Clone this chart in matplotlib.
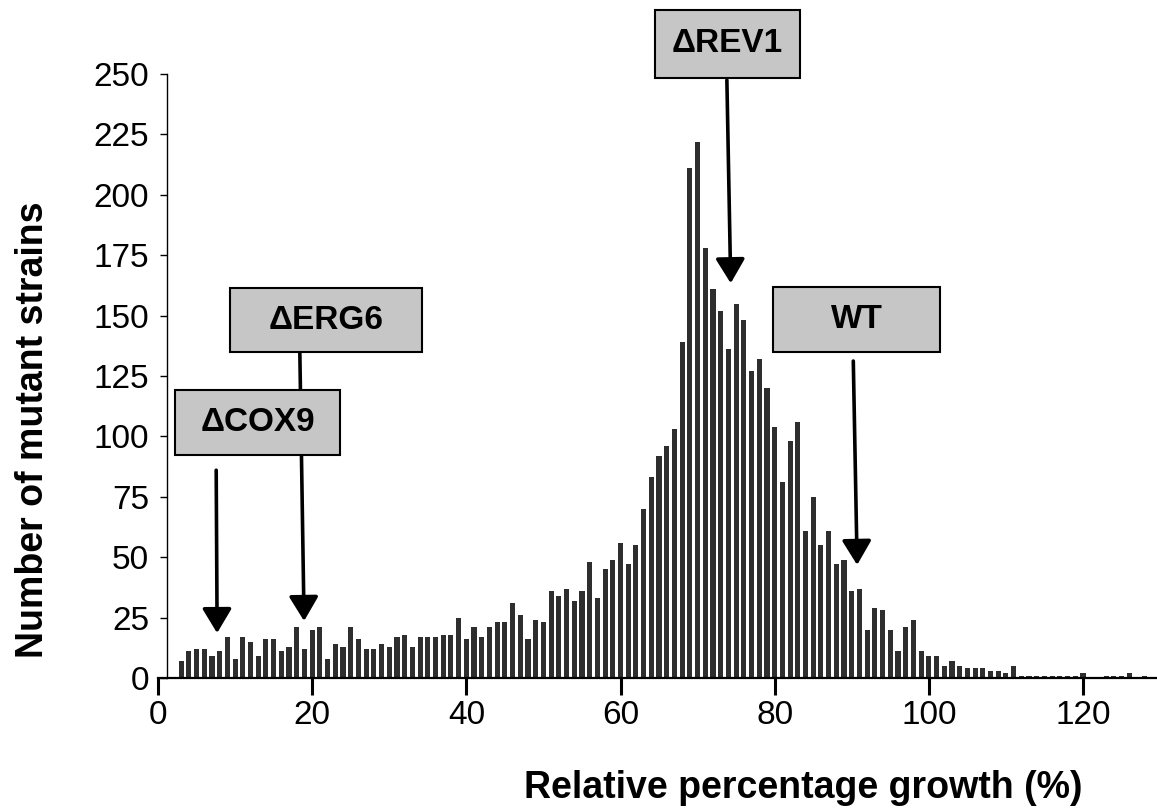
import matplotlib
matplotlib.use("Agg")
import matplotlib.pyplot as plt
from matplotlib.patches import Rectangle

plt.rcParams['font.family'] = ['Liberation Sans', 'DejaVu Sans']

# ---- data: histogram of relative growth (1 % bins) ----
growth = list(range(3, 129))
counts = [7, 11, 12, 12, 9, 11, 17, 8, 17, 15, 9, 16, 16, 11, 13, 21, 12, 20, 21, 8,
          14, 13, 21, 16, 12, 12, 14, 13, 17, 18, 13, 17, 17, 17, 18, 18, 25, 16, 21, 17,
          21, 23, 23, 31, 26, 16, 24, 23, 36, 34, 37, 32, 36, 48, 33, 45, 49, 56, 47, 55,
          70, 83, 92, 96, 103, 139, 211, 222, 178, 161, 152, 136, 155, 148, 127, 132, 120, 104, 81, 98,
          106, 61, 75, 55, 61, 47, 49, 36, 37, 20, 29, 28, 20, 11, 21, 24, 11, 9, 9, 5,
          7, 5, 4, 4, 4, 3, 3, 2, 5, 1, 1, 1, 1, 1, 1, 1, 1, 2, 0, 0,
          1, 1, 1, 2, 0, 1]

x_ticks = [0, 20, 40, 60, 80, 100, 120]
y_ticks = [0, 25, 50, 75, 100, 125, 150, 175, 200, 225, 250]

strain_labels = ["\u0394COX9", "\u0394ERG6", "\u0394REV1", "WT"]

W, H = 1157, 809
fig = plt.figure(figsize=(W / 100, H / 100), dpi=100)
ax = fig.add_axes([158 / W, 131 / H, (W - 158) / W, (678 - 74) / H])

ax.bar(growth, counts, width=0.66, color='#2e2e2e', edgecolor='none', zorder=2)

ax.set_xlim(0, 129.6)
ax.set_ylim(0, 250)
ax.spines['top'].set_visible(False)
ax.spines['right'].set_visible(False)
ax.spines['left'].set_position(('data', 1.2))
ax.spines['left'].set_linewidth(1.0)
ax.spines['bottom'].set_linewidth(1.6)

ax.set_xticks(x_ticks)
ax.set_yticks(y_ticks)
ax.tick_params(axis='x', direction='out', length=12, width=2.2, pad=4, labelsize=24)
ax.tick_params(axis='y', direction='out', length=5, width=1.0, pad=8, labelsize=24)

fig.text(33 / W, (H - 430) / H, "Number of mutant strains", rotation=90,
         ha='center', va='center', fontsize=27, fontweight='bold')
fig.text(803 / W, (H - 788) / H, "Relative percentage growth (%)",
         ha='center', va='center', fontsize=27, fontweight='bold')

# label boxes (pixel extents: left, right, top, bottom)
boxes = [(175, 340, 390, 455), (230, 422, 288, 352), (655, 800, 10, 78), (773, 940, 287, 352)]
for lab, (l, r, t, b) in zip(strain_labels, boxes):
    fig.patches.append(Rectangle((l / W, (H - b) / H), (r - l) / W, (b - t) / H,
                                 transform=fig.transFigure, facecolor='#c6c6c6',
                                 edgecolor='black', linewidth=1.5, zorder=3))
    fig.text((l + r) / 2 / W, (H - (t + b) / 2) / H, lab, ha='center', va='center',
             fontsize=24, fontweight='bold', zorder=4)

# arrows (start -> tip) in data coordinates
arrows = [((7.55, 86.0), (7.67, 18.6)),
          ((18.4, 134.8), (18.95, 23.6)),
          ((73.8, 247.5), (74.3, 163.4)),
          ((90.2, 131.2), (90.7, 46.8))]
for start, tip in arrows:
    ax.annotate('', xy=tip, xytext=start, annotation_clip=False,
                arrowprops=dict(arrowstyle='-|>,head_length=0.75,head_width=0.45',
                                mutation_scale=20, lw=2.6, color='black',
                                shrinkA=0, shrinkB=0), zorder=5)

fig.savefig('out.png', dpi=100)
